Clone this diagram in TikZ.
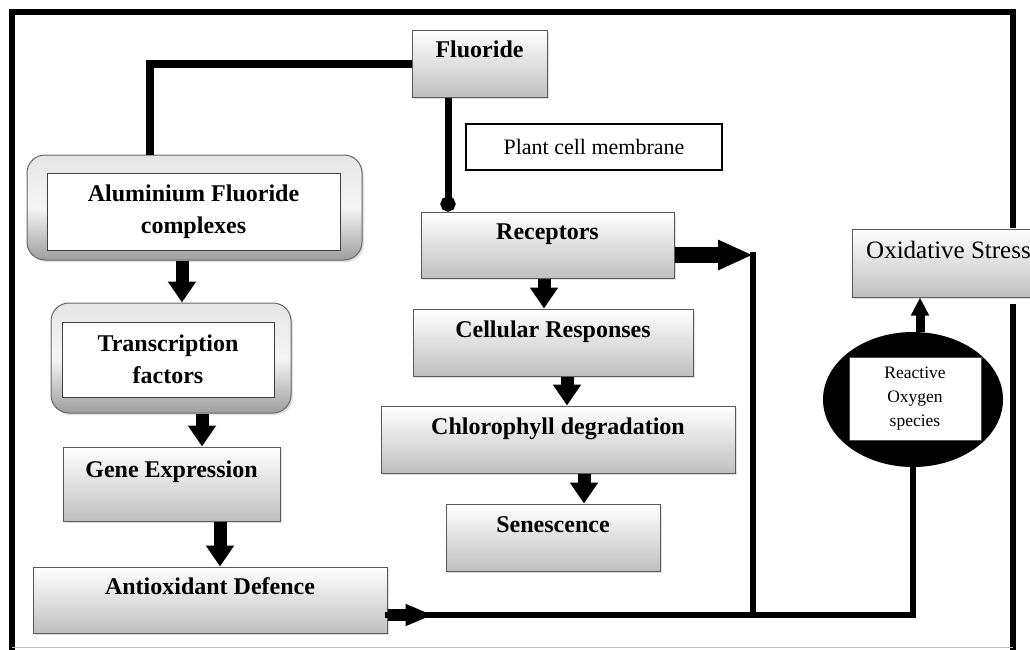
\documentclass[tikz,border=0pt]{standalone}
\usepackage{fontspec}
\setmainfont{Liberation Serif}
\usetikzlibrary{arrows.meta,shapes.geometric,shadows}
\begin{document}
\begin{tikzpicture}[x=1pt,y=-1pt,
  frame/.style={line width=6pt, line cap=rect},
  gbox/.style={draw=black!65, line width=1pt, top color=white, bottom color=black!25,
    drop shadow={shadow xshift=2pt, shadow yshift=-2pt, opacity=0.25}, inner sep=0pt},
  rbox/.style={draw=black!60, line width=1pt, rounded corners=18pt, top color=black!10,
    bottom color=black!38, middle color=black!4,
    drop shadow={shadow xshift=2pt, shadow yshift=-2pt, opacity=0.25}, inner sep=0pt},
  wbox/.style={draw=black!75, line width=1pt, fill=white, align=center,
    font=\fontsize{24}{32}\selectfont\bfseries, inner sep=0pt},
  lbl/.style={font=\fontsize{24}{32}\selectfont\bfseries, anchor=base, inner sep=0pt},
  conn/.style={line width=6pt, line cap=rect},
  blk/.style={line width=13pt, -{Triangle[width=27pt,length=21pt]}},
]
\useasboundingbox (0,0) rectangle (1030,649);
\clip (0,0) rectangle (1030,649);
\fill[white] (0,0) rectangle (1030,649);

% frame
\draw[frame] (12,649) -- (12,12) -- (1013,12) -- (1013,225);
\draw[frame] (1013,307) -- (1013,649);
\draw[black!25, line width=1pt] (12,647) -- (1013,647);

% boxes
\node[gbox, minimum width=135pt, minimum height=67pt] (flu) at (479.5,63.5) {};
\node[lbl] (fluT) at ([yshift=-28pt]flu.north) {Fluoride};

\node[draw, line width=2.5pt, fill=white, minimum width=256pt, minimum height=46pt,
  font=\fontsize{22}{26}\selectfont, inner sep=0pt] (pcm) at (594,147) {Plant cell membrane};

\node[rbox, minimum width=335pt, minimum height=105pt] (al) at (194.5,207.5) {};
\node[wbox, minimum width=293pt, minimum height=77pt] (alT) at (193.5,211.5) {Aluminium Fluoride\\complexes};

\node[rbox, minimum width=240pt, minimum height=110pt] (tf) at (171,358) {};
\node[wbox, minimum width=212pt, minimum height=75pt] (tfT) at (168,359.5) {Transcription\\factors};

\node[gbox, minimum width=217pt, minimum height=74pt] (ge) at (171.5,484) {};
\node[lbl] (geT) at ([yshift=-31pt]ge.north) {Gene Expression};

\node[gbox, minimum width=354pt, minimum height=66pt] (ad) at (210,600) {};
\node[lbl] (adT) at ([yshift=-28pt]ad.north) {Antioxidant Defence};

\node[gbox, minimum width=253pt, minimum height=66pt] (rec) at (547.5,245) {};
\node[lbl] (recT) at ([yshift=-28pt]rec.north) {Receptors};

\node[gbox, minimum width=280pt, minimum height=67pt] (cell) at (553,342.5) {};
\node[lbl] (cellT) at ([yshift=-29pt]cell.north) {Cellular Responses};

\node[gbox, minimum width=354pt, minimum height=67pt] (chl) at (558,439.5) {};
\node[lbl] (chlT) at ([yshift=-29pt]chl.north) {Chlorophyll degradation};

\node[gbox, minimum width=214pt, minimum height=67pt] (sen) at (553,537.5) {};
\node[lbl] (senT) at ([yshift=-29pt]sen.north) {Senescence};

\node[gbox, minimum width=208pt, minimum height=68pt] (ox) at (956,263) {};
\node[font=\fontsize{25}{30}\selectfont, anchor=base west, inner sep=0pt] (oxT) at (866,258) {Oxidative Stress};

\node[ellipse, fill=black, minimum width=180pt, minimum height=135pt, inner sep=0pt] (ros) at (913,399.5) {};
\node[draw=black!70, fill=white, line width=1pt, minimum width=132pt, minimum height=83pt,
  align=center, font=\fontsize{17.5}{24}\selectfont, inner sep=0pt] (rosT) at (915,398.5) {Reactive\\Oxygen\\species};

% connectors
\coordinate (tl) at (150,64);
\draw[line width=8pt] (flu.west) -- (flu.west -| tl) -- (tl |- al.north);

\draw[line width=7pt, -{Circle[length=15pt,width=15pt]}] ([xshift=-31.5pt]flu.south) -- ([xshift=-31.5pt]flu.south |- rec.north);

\coordinate (jr) at (753,255);
\coordinate (jb) at (753,615);
\coordinate (eb) at (913,615);
\draw[conn] (jr) -- (jb);
\draw[conn] (ad.east |- jb) -- (eb) -- (ros.south);
\draw[line width=16pt, -{Triangle[width=28pt,length=35pt]}] (rec.east |- jr) -- (jr);
\draw[line width=12pt, -{Triangle[width=20pt,length=28pt]}] (ad.east |- jb) -- ++(46,0);

\draw[line width=9pt, -{Triangle[width=17pt,length=18pt]}] ([xshift=7pt]ros.north) -- ([xshift=7pt]ros.north |- ox.south);

\draw[blk] ([xshift=-12.5pt]al.south) -- ([xshift=-12.5pt]al.south |- tf.north);
\draw[blk] ([xshift=31pt]tf.south) -- ([xshift=31pt]tf.south |- ge.north);
\draw[blk] ([xshift=48.5pt]ge.south) -- ([xshift=48.5pt]ge.south |- ad.north);
\draw[blk] ([xshift=-3.5pt]rec.south) -- ([xshift=-3.5pt]rec.south |- cell.north);
\draw[blk] ([xshift=14pt]cell.south) -- ([xshift=14pt]cell.south |- chl.north);
\draw[blk] ([xshift=26pt]chl.south) -- ([xshift=26pt]chl.south |- sen.north);
\end{tikzpicture}
\end{document}
